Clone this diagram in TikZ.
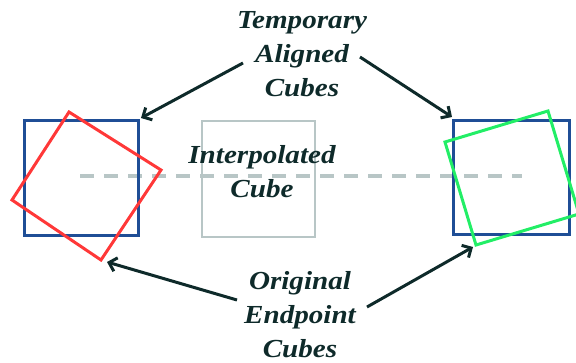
\documentclass[tikz,border=0pt]{standalone}
\usepackage{fontspec}
\setmainfont{Liberation Serif}[FakeStretch=1.12]
\usetikzlibrary{arrows.meta}
\definecolor{inkc}{HTML}{0E2A2A}
\definecolor{bluec}{HTML}{1F4E96}
\definecolor{redc}{HTML}{FF3838}
\definecolor{greenc}{HTML}{22EE66}
\definecolor{grayc}{HTML}{B8C6C6}
\tikzset{
  lbl/.style={inner sep=0pt, align=center, text=inkc, font=\fontsize{26}{34}\selectfont\bfseries\itshape},
  pointer/.style={draw=inkc, line width=3pt, -{Straight Barb[length=7pt,width=14pt,line width=3pt]}},
  cube/.style={line width=3pt}
}
\begin{document}
\begin{tikzpicture}[x=1pt,y=-1pt]
\useasboundingbox (0,0) rectangle (576,362);
% interpolated cube
\draw[cube, draw=grayc, line width=2.4pt] (202,121) rectangle (315,237);
% dashed line
\coordinate (dl) at (80,176);
\coordinate (dr) at (522,176);
\draw[draw=grayc, line width=4pt, dash pattern=on 14pt off 10pt] (dl) -- (dr);
% left cubes
\draw[cube, draw=bluec] (24,120) rectangle (138,235);
\draw[cube, draw=redc] (69,112) -- (161,170) -- (101,260) -- (12,200) -- cycle;
% right cubes
\draw[cube, draw=bluec] (453,120) rectangle (569,234);
\draw[cube, draw=greenc] (445,142) -- (548,111) -- (579,214) -- (476,245) -- cycle;
% labels
\node[lbl] (tac) at (302,54) {Temporary\\Aligned\\Cubes};
\node[lbl] (ic) at (262,172) {Interpolated\\Cube};
\node[lbl] (oec) at (300,315) {Original\\Endpoint\\Cubes};
% arrow endpoints
\coordinate (s1) at (243,63);
\coordinate (t1) at (141,118);
\coordinate (s2) at (360,57);
\coordinate (t2) at (452,117);
\coordinate (s3) at (237,300);
\coordinate (t3) at (107,262);
\coordinate (s4) at (367,307);
\coordinate (t4) at (473,247);
\draw[pointer] (s1) -- (t1);
\draw[pointer] (s2) -- (t2);
\draw[pointer] (s3) -- (t3);
\draw[pointer] (s4) -- (t4);
\end{tikzpicture}
\end{document}
